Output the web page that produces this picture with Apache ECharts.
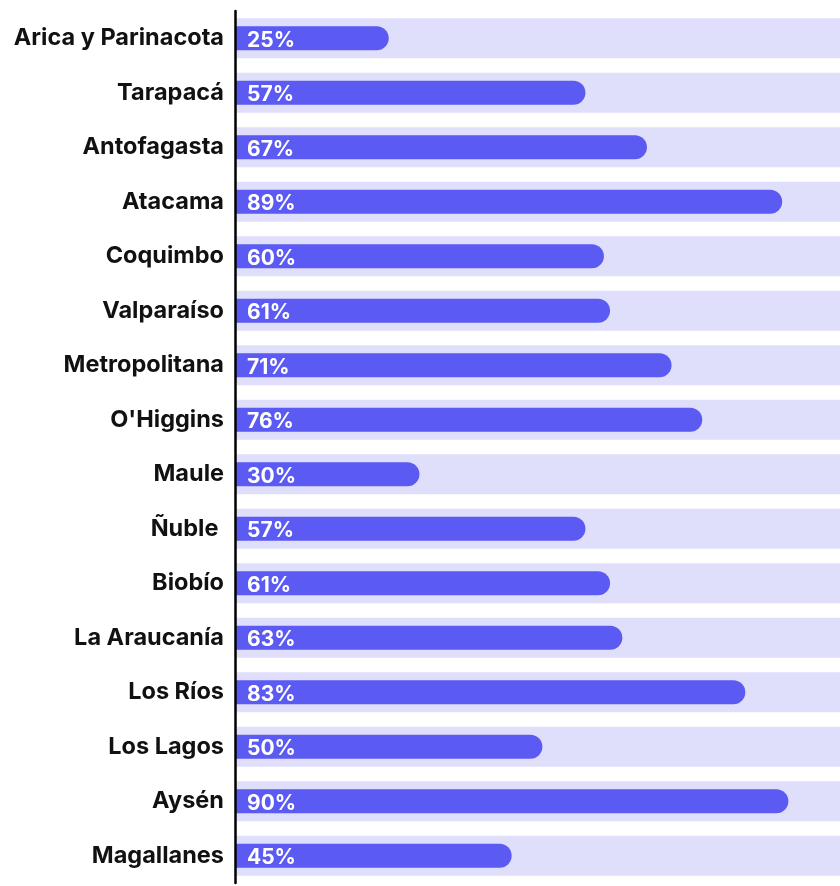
<!DOCTYPE html>
<html>
<head>
<meta charset="utf-8">
<script src="https://cdn.jsdelivr.net/npm/echarts@6/dist/echarts.min.js"></script>
<style>
  html, body { margin: 0; padding: 0; background: #fff; }
  #chart { width: 840px; height: 886px; }
</style>
</head>
<body>
<div id="chart"></div>
<script>
const regions = ['Arica y Parinacota', 'Tarapacá', 'Antofagasta', 'Atacama', 'Coquimbo', 'Valparaíso',
  'Metropolitana', "O'Higgins", 'Maule', 'Ñuble ', 'Biobío', 'La Araucanía', 'Los Ríos',
  'Los Lagos', 'Aysén', 'Magallanes'];
const values = [25, 57, 67, 89, 60, 61, 71, 76, 30, 57, 61, 63, 83, 50, 90, 45];
// the light track runs past the right edge, the visible part ends near 98%
const axisMax = 98.4;
const fullScale = regions.map(() => axisMax);

const chart = echarts.init(document.getElementById('chart'));

chart.setOption({
  animation: false,
  grid: { left: 235, top: 11, right: 0, height: 872 },
  xAxis: { type: 'value', min: 0, max: axisMax, show: false },
  yAxis: [
    {
      type: 'category',
      data: regions,
      inverse: true,
      z: 5,
      axisLine: { show: true, lineStyle: { color: '#000', width: 2.5 } },
      axisTick: { show: false },
      axisLabel: {
        margin: 11,
        color: '#111',
        fontFamily: 'Inter',
        fontWeight: 'bold',
        fontSize: 23.5
      }
    },
    { type: 'category', data: regions, inverse: true, show: false }
  ],
  series: [
    {
      type: 'bar',
      yAxisIndex: 1,
      data: fullScale,
      barWidth: 40,
      itemStyle: { color: '#dfdefb' },
      silent: true,
      z: 1
    },
    {
      type: 'bar',
      yAxisIndex: 0,
      data: values,
      barWidth: 24,
      itemStyle: { color: '#5b5af3', borderRadius: [0, 12, 12, 0] },
      label: {
        show: true,
        position: 'insideLeft',
        distance: 12,
        offset: [0, 2],
        formatter: '{c}%',
        color: '#fff',
        fontFamily: 'Inter',
        fontWeight: 'bold',
        fontSize: 21
      },
      z: 2
    }
  ]
});
</script>
</body>
</html>
